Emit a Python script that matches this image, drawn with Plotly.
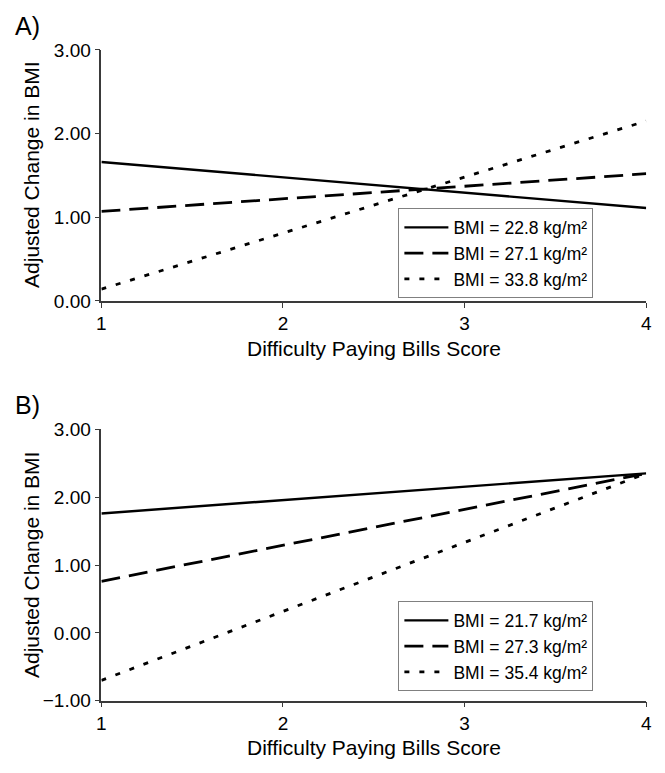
import plotly.graph_objects as go

# Data
x_score = [1, 4]

a_labels = ["BMI = 22.8 kg/m²", "BMI = 27.1 kg/m²", "BMI = 33.8 kg/m²"]
a_low = [1.66, 1.07, 0.14]
a_high = [1.11, 1.52, 2.15]

b_labels = ["BMI = 21.7 kg/m²", "BMI = 27.3 kg/m²", "BMI = 35.4 kg/m²"]
b_low = [1.76, 0.76, -0.70]
b_high = [2.35, 2.35, 2.35]

x_ticks = [1, 2, 3, 4]
a_yticks = [0, 1, 2, 3]
b_yticks = [-1, 0, 1, 2, 3]

dashes = ["solid", "19px,9px", "5px,10px"]
widths = [2.4, 2.8, 2.8]

W, H = 665, 773
FONT = "Liberation Sans, Arial, sans-serif"

fig = go.Figure()
for i in range(3):
    fig.add_trace(go.Scatter(
        x=x_score, y=[a_low[i], a_high[i]], mode="lines", name=a_labels[i],
        line=dict(color="black", width=widths[i], dash=dashes[i]),
        xaxis="x", yaxis="y", legend="legend"))
for i in range(3):
    fig.add_trace(go.Scatter(
        x=x_score, y=[b_low[i], b_high[i]], mode="lines", name=b_labels[i],
        line=dict(color="black", width=widths[i], dash=dashes[i]),
        xaxis="x2", yaxis="y2", legend="legend2"))

def px_x(p):
    return p / W

def px_y(p):
    return 1 - p / H

axis_common = dict(showline=True, linecolor="#3a3a3a", linewidth=1.5, ticks="outside",
                   ticklen=5, tickcolor="#3a3a3a", showgrid=False, zeroline=False,
                   tickfont=dict(family=FONT, size=19, color="black"))

xdom = [px_x(98), px_x(652)]
leg_common = dict(xanchor="left", yanchor="top", bordercolor="#808080", borderwidth=1,
                  bgcolor="white", font=dict(family=FONT, size=17.5, color="black"),
                  itemwidth=44)
fig.update_layout(
    width=W, height=H, margin=dict(l=0, r=0, t=0, b=0),
    paper_bgcolor="white", plot_bgcolor="white",
    xaxis=dict(domain=xdom, range=[1, 4], tickvals=x_ticks, anchor="y", **axis_common),
    yaxis=dict(domain=[px_y(299), px_y(41)], range=[0, 3], tickvals=a_yticks,
               tickformat=".2f", anchor="x", **axis_common),
    xaxis2=dict(domain=xdom, range=[1, 4], tickvals=x_ticks, anchor="y2", **axis_common),
    yaxis2=dict(domain=[px_y(710), px_y(431)], range=[-1, 3], tickvals=b_yticks,
                tickformat=".2f", anchor="x2", **axis_common),
    legend=dict(x=px_x(400), y=px_y(204), **leg_common),
    legend2=dict(x=px_x(400), y=px_y(608), **leg_common),
    showlegend=True,
)

ann = []
ann.append(dict(text="A)", x=px_x(8), y=px_y(0), xref="paper", yref="paper",
                xanchor="left", yanchor="top", showarrow=False,
                font=dict(family=FONT, size=25, color="black")))
ann.append(dict(text="B)", x=px_x(8), y=px_y(390), xref="paper", yref="paper",
                xanchor="left", yanchor="top", showarrow=False,
                font=dict(family=FONT, size=25, color="black")))
for yc in [170, 571]:
    ann.append(dict(text="Adjusted Change in BMI", x=px_x(27), y=px_y(yc), xref="paper", yref="paper",
                    xanchor="center", yanchor="middle", textangle=-90, showarrow=False,
                    font=dict(family=FONT, size=21, color="black")))
for yc in [348, 758]:
    ann.append(dict(text="Difficulty Paying Bills Score", x=px_x(375), y=px_y(yc), xref="paper", yref="paper",
                    xanchor="center", yanchor="middle", showarrow=False,
                    font=dict(family=FONT, size=21, color="black")))
fig.update_layout(annotations=ann)

fig.write_html("out.html", config={"displayModeBar": False},
               post_script="document.body.style.margin='0';document.body.style.overflow='hidden';")
